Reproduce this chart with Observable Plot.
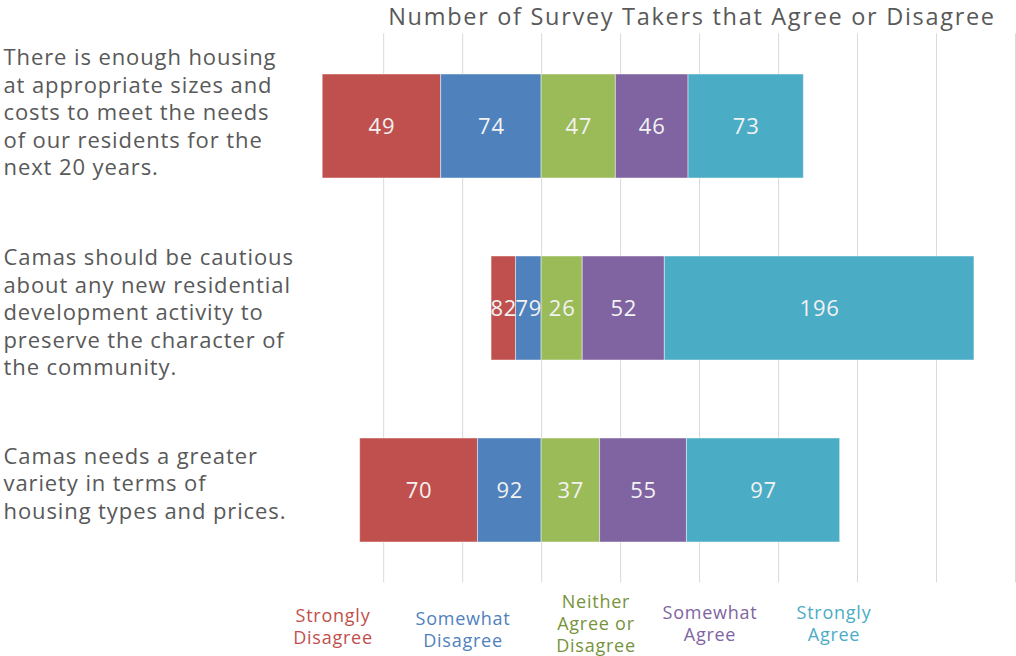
<!DOCTYPE html>
<html><head><meta charset="utf-8">
<script src="https://cdn.jsdelivr.net/npm/d3@7"></script>
<script src="https://cdn.jsdelivr.net/npm/@observablehq/plot@0.6"></script>
<style>
body{margin:0;background:#fff;font-family:"Open Sans",sans-serif;}
#wrap{width:1016px;height:656px;position:relative;overflow:hidden;background:#fff}
#title{height:32px;line-height:32px;font-size:23.5px;letter-spacing:1.7px;color:#595959;text-align:center;padding-left:368px;box-sizing:border-box;width:1016px;white-space:nowrap}
#chart svg,#legend svg{display:block}
</style></head>
<body><div id="wrap"><div id="title">Number of Survey Takers that Agree or Disagree</div><div id="chart"></div><div id="legend"></div></div>
<script>
const questions = [
  "There is enough housing at appropriate sizes and costs to meet the needs of our residents for the next 20 years.",
  "Camas should be cautious about any new residential development activity to preserve the character of the community.",
  "Camas needs a greater variety in terms of housing types and prices."
];
const questionLines = [
  ["There is enough housing", "at appropriate sizes and", "costs to meet the needs", "of our residents for the", "next 20 years."],
  ["Camas should be cautious", "about any new residential", "development activity to", "preserve the character of", "the community."],
  ["Camas needs a greater", "variety in terms of", "housing types and prices."]
];
const levels = ["Strongly Disagree", "Somewhat Disagree", "Neither Agree or Disagree", "Somewhat Agree", "Strongly Agree"];
const legendLines = [["Strongly", "Disagree"], ["Somewhat", "Disagree"], ["Neither", "Agree or", "Disagree"], ["Somewhat", "Agree"], ["Strongly", "Agree"]];
const levelColors = ["#C0504D", "#4F81BD", "#9BBB59", "#8064A2", "#4BACC6"];
const legendTextColors = ["#C0504D", "#4F81BD", "#77933C", "#8064A2", "#4BACC6"];

// values printed on the segments
const stronglyDisagree = [49, 82, 70];
const somewhatDisagree = [74, 79, 92];
const neither = [47, 26, 37];
const somewhatAgree = [46, 52, 55];
const stronglyAgree = [73, 196, 97];
// drawn lengths of the disagree segments (they differ from their printed labels in the source)
const stronglyDisagreeBar = [75, 15.5, 74.6];
const somewhatDisagreeBar = [63.6, 16.2, 40.3];

const gridTicks = [-100, -50, 0, 50, 100, 150, 200, 250, 300];

// layout only
const labelDy = [-15, 3, -8];
const legendX = [333, 463, 596, 710, 834];
const legendBaseline = [33.6, 36.6, 19.6, 30.6, 30.6];
const legendLineStep = 22;

const rows = [];
questions.forEach((q, i) => {
  rows.push({q, level: levels[0], v: -stronglyDisagreeBar[i], label: stronglyDisagree[i]});
  rows.push({q, level: levels[1], v: -somewhatDisagreeBar[i], label: somewhatDisagree[i]});
  rows.push({q, level: levels[2], v: neither[i], label: neither[i]});
  rows.push({q, level: levels[3], v: somewhatAgree[i], label: somewhatAgree[i]});
  rows.push({q, level: levels[4], v: stronglyAgree[i], label: stronglyAgree[i]});
});
const order = [levels[1], levels[0], levels[2], levels[3], levels[4]];

const plot = Plot.plot({
  width: 1016, height: 556,
  marginTop: 1.3, marginBottom: 5.7, marginLeft: 320, marginRight: 1,
  x: {domain: [-140, 300], axis: null},
  y: {domain: questions, axis: null, paddingInner: 0.4307, paddingOuter: 0.2156},
  color: {domain: levels, range: levelColors},
  style: {fontFamily: "'Open Sans', sans-serif", background: "white"},
  marks: [
    Plot.ruleX(gridTicks, {stroke: "#d9d9d9", strokeWidth: 1}),
    Plot.barX(rows, Plot.stackX({x: "v", y: "q", fill: "level", z: "level", order, stroke: "#ffffff", strokeOpacity: 0.45, strokeWidth: 1})),
    Plot.text(rows, Plot.stackX({x: "v", y: "q", z: "level", text: "label", order, fill: "#f2f2f2", fontSize: 22})),
    ...questions.map((q, i) => Plot.text([q], {
      y: d => d, text: () => questionLines[i].join("\n"),
      frameAnchor: "left", textAnchor: "start", dx: -317, dy: labelDy[i],
      lineHeight: 1.25, fontSize: 22, fill: "#595959"
    }))
  ]
});
const textGroups = plot.querySelectorAll('g[aria-label="text"]');
textGroups.forEach((g, i) => { g.style.letterSpacing = i === 0 ? "0.8px" : "0.9px"; });
document.getElementById("chart").appendChild(plot);

// legend below the chart
const legendSvg = d3.create("svg")
  .attr("width", 1016).attr("height", 68)
  .attr("font-family", "'Open Sans', sans-serif")
  .attr("font-size", 18)
  .attr("letter-spacing", "0.75px");
levels.forEach((lv, i) => {
  const t = legendSvg.append("text")
    .attr("text-anchor", "middle")
    .attr("fill", legendTextColors[i])
    .attr("y", legendBaseline[i]);
  legendLines[i].forEach((line, j) => {
    t.append("tspan").attr("x", legendX[i]).attr("dy", j === 0 ? 0 : legendLineStep).text(line);
  });
});
document.getElementById("legend").appendChild(legendSvg.node());
</script>
</body></html>
